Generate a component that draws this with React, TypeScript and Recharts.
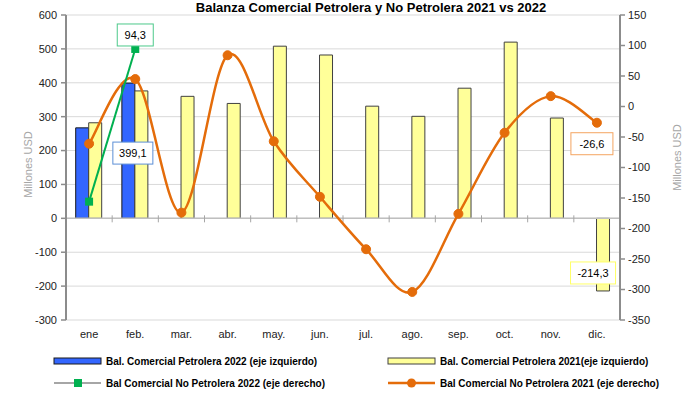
import React from 'react';
import {
  ComposedChart, Bar, Line, XAxis, YAxis, CartesianGrid, ReferenceLine, LabelList,
} from 'recharts';

const months = ['ene', 'feb.', 'mar.', 'abr.', 'may.', 'jun.', 'jul.', 'ago.', 'sep.', 'oct.', 'nov.', 'dic.'];
const petrolera2022: (number | null)[] = [267, 399.1, null, null, null, null, null, null, null, null, null, null];
const petrolera2021: number[] = [282, 376, 360, 339, 508, 482, 331, 301, 384, 520, 296, -214.3];
const noPetrolera2022: (number | null)[] = [-156, 94.3, null, null, null, null, null, null, null, null, null, null];
const noPetrolera2021: number[] = [-61, 45, -174, 84, -57, -148, -234, -304, -176, -43, 17, -26.6];
const leftTicks = [-300, -200, -100, 0, 100, 200, 300, 400, 500, 600];
const rightTicks = [-350, -300, -250, -200, -150, -100, -50, 0, 50, 100, 150];

const TITLE = 'Balanza Comercial Petrolera y No Petrolera 2021 vs 2022';
const legendNames = [
  'Bal. Comercial Petrolera 2022 (eje izquierdo)',
  'Bal. Comercial Petrolera 2021(eje izquierdo)',
  'Bal Comercial No Petrolera 2022 (eje derecho)',
  'Bal Comercial No Petrolera 2021 (eje derecho)',
];

const BLUE = '#3366FF';
const YELLOW = '#FFFF99';
const ORANGE = '#E46C0A';
const GREEN = '#00B050';
const FONT = '"Liberation Sans", Arial, sans-serif';

const data = months.map((m, i) => ({
  month: m,
  p2022: petrolera2022[i],
  p2021: petrolera2021[i],
  np2022: noPetrolera2022[i],
  np2021: noPetrolera2021[i],
}));

const fmt = (v: number) => String(v).replace('.', ',');

// Catmull-Rom style smoothing (like Excel smoothed lines)
const smoothCurve = (context: any) => {
  let pts: number[][] = [];
  return {
    areaStart() {},
    areaEnd() {},
    lineStart() { pts = []; },
    point(x: number, y: number) { pts.push([+x, +y]); },
    lineEnd() {
      if (!pts.length) return;
      context.moveTo(pts[0][0], pts[0][1]);
      for (let i = 0; i < pts.length - 1; i++) {
        const p0 = pts[i - 1] || pts[i];
        const p1 = pts[i];
        const p2 = pts[i + 1];
        const p3 = pts[i + 2] || p2;
        context.bezierCurveTo(
          p1[0] + (p2[0] - p0[0]) / 6, p1[1] + (p2[1] - p0[1]) / 6,
          p2[0] - (p3[0] - p1[0]) / 6, p2[1] - (p3[1] - p1[1]) / 6,
          p2[0], p2[1],
        );
      }
    },
  };
};

const Box = ({ cx, cy, w, text, border }: any) => (
  <g>
    <rect x={cx - w / 2} y={cy - 11} width={w} height={22} fill="#fff" stroke={border} strokeWidth={1} />
    <text x={cx} y={cy + 4} textAnchor="middle" fontSize={11} fontFamily={FONT} fill="#000">{text}</text>
  </g>
);

const SquareDot = (props: any) => {
  const { cx, cy, index } = props;
  if (cx == null || cy == null) return <g key={`sq-${index}`} />;
  return <rect key={`sq-${index}`} x={cx - 4} y={cy - 4} width={8} height={8} fill={GREEN} />;
};

const ZeroLine = (props: any) => {
  const { x1, x2, y1 } = props;
  const n = months.length;
  const step = (x2 - x1) / n;
  const ticks = [];
  for (let i = 1; i < n; i++) {
    const x = x1 + step * i;
    ticks.push(<line key={i} x1={x} x2={x} y1={y1 - 3} y2={y1 + 4} stroke="#a6a6a6" strokeWidth={1} />);
  }
  return (
    <g>
      <line x1={x1} x2={x2} y1={y1} y2={y1} stroke="#bfbfbf" strokeWidth={1.5} />
      {ticks}
    </g>
  );
};

export default function App() {
  return (
    <div style={{ position: 'absolute', left: 0, top: 0, width: 683, height: 412, background: '#fff', fontFamily: FONT }}>
      <ComposedChart
        width={683}
        height={412}
        data={data}
        margin={{ top: 15, right: 0, bottom: 62, left: 0 }}
        barCategoryGap="21%"
        barGap={0}
      >
        <CartesianGrid yAxisId="left" vertical={false} stroke="#d9d9d9" strokeWidth={1} />
        <XAxis
          dataKey="month"
          axisLine={false}
          tickLine={false}
          tickSize={8}
          tickMargin={2}
          height={30}
          interval={0}
          tick={{ fontSize: 11, fill: '#222', fontFamily: FONT }}
        />
        <YAxis
          yAxisId="left"
          orientation="left"
          width={66}
          domain={[-300, 600]}
          ticks={leftTicks}
          interval={0}
          axisLine={{ stroke: '#8c8c8c', strokeWidth: 2 }}
          tickLine={{ stroke: '#8c8c8c', strokeWidth: 1.5 }}
          tickSize={5}
          tickMargin={4}
          tick={{ fontSize: 11, fill: '#222', fontFamily: FONT }}
          label={{
            content: ({ viewBox }: any) => {
              const x = viewBox.x + 28;
              const y = viewBox.y + viewBox.height / 2 - 3;
              return (
                <text x={x} y={y} transform={`rotate(-90 ${x} ${y})`} textAnchor="middle" dominantBaseline="central" fontSize={11} fill="#a6a6a6" fontFamily={FONT}>Millones USD</text>
              );
            },
          }}
        />
        <YAxis
          yAxisId="right"
          orientation="right"
          width={63}
          domain={[-350, 150]}
          ticks={rightTicks}
          interval={0}
          axisLine={{ stroke: '#8c8c8c', strokeWidth: 2 }}
          tickLine={{ stroke: '#8c8c8c', strokeWidth: 1.5 }}
          tickSize={5}
          tickMargin={3}
          tick={{ fontSize: 11, fill: '#222', fontFamily: FONT }}
          label={{
            content: ({ viewBox }: any) => {
              const x = viewBox.x + 57;
              const y = viewBox.y + viewBox.height / 2 - 10;
              return (
                <text x={x} y={y} transform={`rotate(-90 ${x} ${y})`} textAnchor="middle" dominantBaseline="central" fontSize={11} fill="#a6a6a6" fontFamily={FONT}>Millones USD</text>
              );
            },
          }}
        />
        <ReferenceLine yAxisId="left" y={0} shape={(p: any) => <ZeroLine {...p} />} />
        <Bar yAxisId="left" dataKey="p2022" fill={BLUE} stroke="#1a1a1a" strokeWidth={1} isAnimationActive={false}>
          <LabelList
            dataKey="p2022"
            content={(p: any) => {
              if (p.index !== 1 || p.value == null) return null;
              const top = Math.min(p.y, p.y + p.height);
              return <Box cx={p.x + p.width / 2 + 4.5} cy={top + 70} w={40} text={fmt(p.value)} border="#5b8fd6" />;
            }}
          />
        </Bar>
        <Bar yAxisId="left" dataKey="p2021" fill={YELLOW} stroke="#404040" strokeWidth={1} isAnimationActive={false}>
          <LabelList
            dataKey="p2021"
            content={(p: any) => {
              if (p.index !== months.length - 1) return null;
              const bottom = Math.max(p.y, p.y + p.height);
              return <Box cx={p.x + p.width / 2 - 10} cy={bottom - 18} w={45} text={fmt(p.value)} border="#ffff66" />;
            }}
          />
        </Bar>
        <Line
          yAxisId="right"
          dataKey="np2021"
          type={smoothCurve as any}
          stroke={ORANGE}
          strokeWidth={2.5}
          dot={{ r: 4.5, fill: ORANGE, stroke: ORANGE, strokeWidth: 1 }}
          activeDot={false}
          isAnimationActive={false}
        >
          <LabelList
            dataKey="np2021"
            content={(p: any) => {
              if (p.index !== months.length - 1) return null;
              return <Box cx={p.x - 5} cy={p.y + 21} w={42} text={fmt(p.value)} border="#f4a460" />;
            }}
          />
        </Line>
        <Line
          yAxisId="right"
          dataKey="np2022"
          type="linear"
          stroke={GREEN}
          strokeWidth={2}
          dot={(p: any) => <SquareDot {...p} />}
          activeDot={false}
          isAnimationActive={false}
        >
          <LabelList
            dataKey="np2022"
            content={(p: any) => {
              if (p.index !== 1 || p.value == null) return null;
              return <Box cx={p.x} cy={p.y - 14} w={36} text={fmt(p.value)} border="#4cc98a" />;
            }}
          />
        </Line>
      </ComposedChart>
      <svg width={683} height={412} style={{ position: 'absolute', left: 0, top: 0, pointerEvents: 'none' }}>
        <text x={371} y={12} textAnchor="middle" fontSize={13} fontWeight="bold" fontFamily={FONT} fill="#000">{TITLE}</text>
        {/* legend row 1 */}
        <rect x={54} y={358} width={47} height={6} fill={BLUE} stroke="#1a1a1a" strokeWidth={1} />
        <text x={106} y={365} fontSize={10} fontWeight="bold" fontFamily={FONT} fill="#000">{legendNames[0]}</text>
        <rect x={388} y={358} width={47} height={6} fill={YELLOW} stroke="#404040" strokeWidth={1} />
        <text x={440} y={365} fontSize={10} fontWeight="bold" fontFamily={FONT} fill="#000">{legendNames[1]}</text>
        {/* legend row 2 */}
        <line x1={54} x2={101} y1={383} y2={383} stroke="#a6a6a6" strokeWidth={2} />
        <rect x={74} y={379} width={8} height={8} fill={GREEN} />
        <text x={106} y={387} fontSize={10} fontWeight="bold" fontFamily={FONT} fill="#000">{legendNames[2]}</text>
        <line x1={388} x2={435} y1={383} y2={383} stroke={ORANGE} strokeWidth={2.5} />
        <circle cx={411.5} cy={383} r={4.5} fill={ORANGE} />
        <text x={440} y={387} fontSize={10} fontWeight="bold" fontFamily={FONT} fill="#000">{legendNames[3]}</text>
      </svg>
    </div>
  );
}
